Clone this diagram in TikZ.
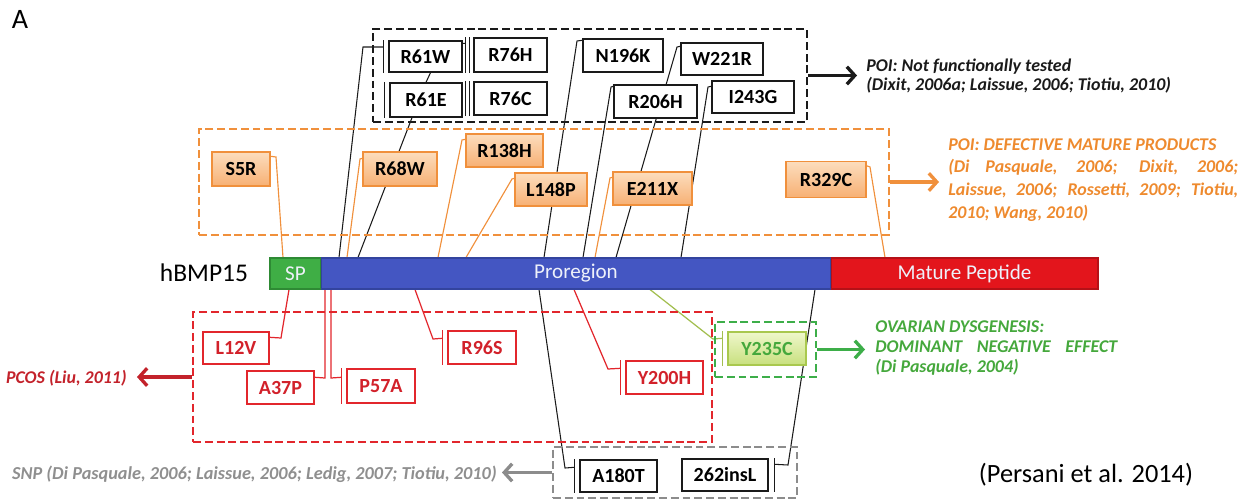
\documentclass[tikz,border=0pt]{standalone}
\usepackage{fontspec}
\setmainfont{Carlito}
\usetikzlibrary{arrows.meta,backgrounds}
\definecolor{ink}     {HTML}{1A1A1A}
\definecolor{spgreen} {HTML}{3FAE45}
\definecolor{spedge}  {HTML}{2E8A34}
\definecolor{problue} {HTML}{4456C2}
\definecolor{proedge} {HTML}{33449E}
\definecolor{matred}  {HTML}{E3151C}
\definecolor{matedge} {HTML}{B51117}
\definecolor{segtext} {HTML}{EEF1FA}
\definecolor{orgedge} {HTML}{F0903C}
\definecolor{orgtop}  {HTML}{FCDDBD}
\definecolor{orgbot}  {HTML}{F7B074}
\definecolor{orgtext} {HTML}{EE8A2E}
\definecolor{redge}   {HTML}{E2262C}
\definecolor{redtext} {HTML}{D2212A}
\definecolor{pcosred} {HTML}{C3222B}
\definecolor{grnedge} {HTML}{A9C84E}
\definecolor{grntop}  {HTML}{EFF7CB}
\definecolor{grnbot}  {HTML}{C8E07E}
\definecolor{grntext} {HTML}{45A83C}
\definecolor{grndash} {HTML}{3DAE49}
\definecolor{olive}   {HTML}{A2BE4E}
\definecolor{graydash}{HTML}{8C8C8C}
\definecolor{graytext}{HTML}{8F8F8F}
\tikzset{
  mutbox/.style  ={fill=white, line width=0.8pt, minimum height=0.66cm,
                   inner sep=0pt, font=\fontsize{11.4}{13}\selectfont\bfseries},
  blkbox/.style  ={mutbox, draw=ink},
  orgbox/.style  ={mutbox, draw=orgedge, top color=orgtop, bottom color=orgbot},
  redbox/.style  ={mutbox, draw=redge, text=redtext},
  grnbox/.style  ={mutbox, draw=grnedge, top color=grntop, bottom color=grnbot, text=grntext},
  segbox/.style  ={minimum height=0.62cm, inner sep=0pt, line width=0.6pt,
                   text=segtext, font=\fontsize{12}{14}\selectfont},
  groupbox/.style={inner sep=0pt, line width=1.5pt, dash pattern=on 4.5pt off 2.2pt},
  blkconn/.style ={draw=ink, line width=0.6pt},
  orgconn/.style ={draw=orgedge, line width=0.65pt},
  redconn/.style ={draw=redge, line width=0.7pt},
  grnconn/.style ={draw=olive, line width=0.7pt},
  tbar/.style    ={line width=0.9pt},
  bigarr/.style  ={-{Straight Barb[length=4.5pt,width=10pt]}, line width=1.9pt},
  note/.style    ={font=\fontsize{10.2}{10.6}\selectfont\bfseries\itshape,
                   align=left, anchor=west, inner sep=0pt},
}
\begin{document}
\begin{tikzpicture}[x=0.02cm,y=-0.02cm]
  \useasboundingbox (0,0) rectangle (1241,501);
  \clip (0,0) rectangle (1241,501);

  \node[font=\fontsize{16}{18}\selectfont] (panelA) at (20,19) {A};

  % protein
  \node[font=\fontsize{14.5}{16}\selectfont] (hbmp) at (204,273) {hBMP15};
  \node[segbox, fill=spgreen, draw=spedge,  minimum width=1.02cm]  (SP)  at (295.5,273.5) {SP};
  \node[segbox, fill=problue, draw=proedge, minimum width=10.2cm]  (PRO) at (576,273.5)   {Proregion};
  \node[segbox, fill=matred,  draw=matedge, minimum width=5.34cm]  (MAT) at (964.5,273.5) {Mature Peptide};

  % not functionally tested
  \node[blkbox, minimum width=1.46cm, minimum height=0.62cm] (R61W)  at (425.5,56.5) {R61W};
  \node[blkbox, minimum width=1.46cm, minimum height=0.68cm] (R76H)  at (510.5,55)   {R76H};
  \node[blkbox, minimum width=1.44cm, minimum height=0.68cm] (R61E)  at (426,100)    {R61E};
  \node[blkbox, minimum width=1.46cm]                        (R76C)  at (510.5,98.5) {R76C};
  \node[blkbox, minimum width=1.60cm]                        (N196K) at (623,55.5)   {N196K};
  \node[blkbox, minimum width=1.64cm, minimum height=0.64cm] (W221R) at (722,59)     {W221R};
  \node[blkbox, minimum width=1.66cm]                        (R206H) at (655.5,101.5){R206H};
  \node[blkbox, minimum width=1.64cm, minimum height=0.64cm] (I243G) at (753,97)     {I243G};

  % defective mature products
  \node[orgbox, minimum width=1.16cm, minimum height=0.68cm] (S5R)   at (241,169)    {S5R};
  \node[orgbox, minimum width=1.48cm, minimum height=0.68cm] (R68W)  at (400,169)    {R68W};
  \node[orgbox, minimum width=1.54cm]                        (R138H) at (504.5,150.5){R138H};
  \node[orgbox, minimum width=1.44cm]                        (L148P) at (551,189.5)  {L148P};
  \node[orgbox, minimum width=1.58cm]                        (E211X) at (652.5,188.5){E211X};
  \node[orgbox, minimum width=1.60cm, minimum height=0.72cm] (R329C) at (826,179.5)  {R329C};

  % pcos
  \node[redbox, minimum width=1.32cm, minimum height=0.64cm] (L12V)  at (236,348)    {L12V};
  \node[redbox, minimum width=1.34cm]                        (A37P)  at (280.5,387.5){A37P};
  \node[redbox, minimum width=1.36cm, minimum height=0.68cm] (P57A)  at (381,386)    {P57A};
  \node[redbox, minimum width=1.36cm]                        (R96S)  at (482,347.5)  {R96S};
  \node[redbox, minimum width=1.54cm]                        (Y200H) at (664.5,377.5){Y200H};

  % dominant negative
  \node[grnbox, minimum width=1.56cm]                        (Y235C) at (767,348.5)  {Y235C};

  % snp
  \node[blkbox, minimum width=1.54cm, minimum height=0.64cm] (A180T) at (618.5,476)  {A180T};
  \node[blkbox, minimum width=1.72cm, minimum height=0.64cm] (ins262) at (725,475)   {262insL};

  % dashed groups
  \node[groupbox, draw=ink,      minimum width=8.68cm, minimum height=1.86cm] (grpTop) at (590,75.5)  {};
  \node[groupbox, draw=orgedge,  minimum width=13.8cm, minimum height=2.12cm] (grpOrg) at (544,182)   {};
  \node[groupbox, draw=redge,    minimum width=10.38cm,minimum height=2.6cm]  (grpRed) at (452.5,377) {};
  \node[groupbox, draw=grndash,  minimum width=2.02cm, minimum height=1.1cm]  (grpGrn) at (765.5,349.5){};
  \node[groupbox, draw=graydash, minimum width=4.88cm, minimum height=1.02cm] (grpSnp) at (675,472.5) {};

  % phenotypes
  \node[note, text=ink] (notTested) at (866,76)
    {POI: Not functionally tested\\(Dixit, 2006a; Laissue, 2006; Tiotiu, 2010)};
  \node[note, text=orgtext, font=\fontsize{10.2}{13}\selectfont\bfseries\itshape] (defMature) at (948,180)
    {POI: DEFECTIVE MATURE PRODUCTS\\
     \makebox[5.8cm][s]{(Di Pasquale, 2006; Dixit, 2006;}\\
     \makebox[5.8cm][s]{Laissue, 2006; Rossetti, 2009; Tiotiu,}\\
     2010; Wang, 2010)};
  \node[note, text=grntext, font=\fontsize{10.2}{11.2}\selectfont\bfseries\itshape] (ovDys) at (875,348)
    {OVARIAN DYSGENESIS:\\\makebox[4.84cm][s]{DOMINANT NEGATIVE EFFECT}\\(Di Pasquale, 2004)};
  \node[note, text=pcosred, anchor=east] (pcos) at (127,378) {PCOS (Liu, 2011)};
  \node[note, text=graytext, anchor=east, font=\fontsize{10.4}{11}\selectfont\bfseries\itshape] (snp) at (497,474)
    {SNP (Di Pasquale, 2006; Laissue, 2006; Ledig, 2007; Tiotiu, 2010)};
  \node[font=\fontsize{15}{18}\selectfont] (cite) at (1086,475) {(Persani et al. 2014)};

  \draw[bigarr, ink]      (grpTop.east) -- (grpTop.east -| notTested.west) [shorten >=0.18cm];
  \draw[bigarr, orgedge]  (grpOrg.east) -- (grpOrg.east -| defMature.west) [shorten >=0.18cm];
  \draw[bigarr, grndash]  (grpGrn.east) -- (grpGrn.east -| ovDys.west)     [shorten >=0.2cm];
  \draw[bigarr, pcosred]  (grpRed.west) -- (grpRed.west -| pcos.east)      [shorten >=0.2cm];
  \draw[bigarr, graydash] (grpSnp.west) -- (grpSnp.west -| snp.east)       [shorten >=0.1cm];

  % inhibition bars
  \foreach \m/\c in {R61W/ink, R61E/ink, A180T/ink, P57A/redge, R96S/redge, Y200H/redge, Y235C/olive}
    \draw[tbar, \c] ([xshift=-0.1cm]\m.north west) -- ([xshift=-0.1cm]\m.south west);
  \draw[tbar, ink] ([xshift=0.12cm]ins262.north east) -- ([xshift=0.12cm]ins262.south east);
  \foreach \m in {R76H, R76C} {
    \draw[tbar, ink] ([xshift=-0.08cm]\m.north west) -- ([xshift=-0.08cm]\m.south west);
    \draw[tbar, ink] ([xshift=-0.16cm]\m.north west) -- ([xshift=-0.16cm]\m.south west);
  }
  \draw[blkconn] ([yshift=-0.06cm]R61W.north east) -- ([xshift=-0.16cm,yshift=-0.12cm]R76H.north west);

  \begin{scope}[on background layer]
    \draw[blkconn] (339,0 |- PRO.north) -- (363,47) -- ([xshift=-0.1cm,yshift=0.19cm]R61W.west);
    \draw[blkconn] ([xshift=0.1cm]R61W.south) -- (R61E.north);
    \draw[blkconn] (358,0 |- PRO.north) -- ([xshift=-0.28cm]R61E.south);
    \draw[blkconn] (544,0 |- PRO.north) -- (577,41) -- ([yshift=-0.04cm]N196K.north west);
    \draw[blkconn] (616,0 |- PRO.north) -- (677,47) -- ([yshift=-0.08cm]W221R.north west);
    \draw[blkconn] (583,0 |- PRO.north) -- (611,87) -- ([yshift=-0.04cm]R206H.north west);
    \draw[blkconn] (681,0 |- PRO.north) -- (708,87) -- ([yshift=-0.12cm]I243G.north west);

    \draw[orgconn] (283,0 |- SP.north)  -- (276,157) -- ([yshift=-0.1cm]S5R.north east);
    \draw[orgconn] (347,0 |- PRO.north) -- (360,159) -- ([yshift=-0.14cm]R68W.north west);
    \draw[orgconn] (438,0 |- PRO.north) -- (462,140) -- ([yshift=-0.12cm]R138H.north west);
    \draw[orgconn] (466,0 |- PRO.north) -- (512,179) -- ([yshift=-0.12cm]L148P.north west);
    \draw[orgconn] (595,0 |- PRO.north) -- (610,178) -- ([yshift=-0.12cm]E211X.north west);
    \draw[orgconn] (885,0 |- MAT.north) -- (870,167) -- ([yshift=-0.1cm]R329C.north east);

    \draw[redconn] (289,0 |- SP.south)  -- (281,338) -- ([yshift=-0.12cm]L12V.north east);
    \draw[redconn] (325,0 |- PRO.south) -- (325,378) -- ([yshift=-0.14cm]A37P.north east);
    \draw[redconn] (331,0 |- PRO.south) -- (331,378) -- ([xshift=-0.1cm,yshift=-0.18cm]P57A.north west);
    \draw[redconn] (415,0 |- PRO.south) -- (433,339) -- ([xshift=-0.1cm,yshift=-0.16cm]R96S.north west);
    \draw[redconn] (574,0 |- PRO.south) -- (608,369) -- ([xshift=-0.1cm,yshift=-0.16cm]Y200H.north west);

    \draw[grnconn] (650,0 |- PRO.south) -- (713,339) -- ([xshift=-0.1cm,yshift=-0.14cm]Y235C.north west);

    \draw[blkconn] (539,0 |- PRO.south) -- (565,468) -- ([xshift=-0.1cm,yshift=-0.16cm]A180T.north west);
    \draw[blkconn] (815,0 |- PRO.south) -- (788,465) -- ([xshift=0.12cm,yshift=-0.12cm]ins262.north east);
  \end{scope}
\end{tikzpicture}
\end{document}
